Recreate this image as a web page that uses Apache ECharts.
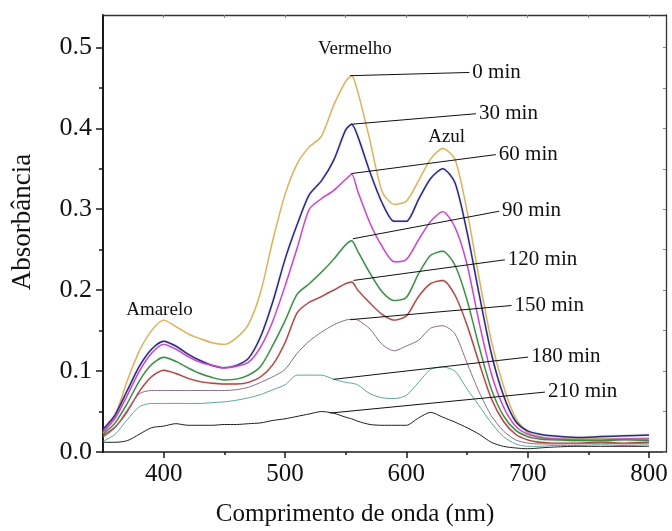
<!DOCTYPE html>
<html>
<head>
<meta charset="utf-8">
<script src="https://cdn.jsdelivr.net/npm/echarts@6/dist/echarts.min.js"></script>
<style>
  html, body { margin: 0; padding: 0; background: #fff; }
  #chart { width: 672px; height: 531px; }
</style>
</head>
<body>
<div id="chart"></div>
<script>
// wavelengths (nm) shared by all spectra
var wavelength = [350,360,370,380,390,400,410,420,430,440,450,460,470,480,490,500,510,520,530,540,550,
  555,
  560,570,580,590,600,610,620,630,640,650,660,670,680,690,700,
  710,720,
  740,760,780,800];

// absorbance, one array per irradiation time
var abs0 = [.023,.045,.088,.125,.150,.163,.155,.146,.140,.135,.133,.141,.158,.198,.262,.318,.356,.377,.390,.428,.458,
  .465,
  .445,.385,.322,.306,.310,.335,.362,.375,.362,.298,.215,.138,.082,.042,.024,
  .019,.017,
  .016,.017,.016,.017];
var abs30 = [.028,.046,.076,.106,.127,.137,.131,.121,.113,.107,.104,.107,.116,.143,.186,.238,.281,.318,.335,.360,.398,
  .405,
  .390,.346,.308,.285,.285,.312,.338,.350,.333,.272,.195,.122,.070,.038,.026,
  .022,.020,
  .018,.019,.020,.021];
var abs60 = [.025,.042,.070,.100,.122,.133,.127,.118,.111,.107,.104,.106,.111,.130,.162,.205,.252,.300,.313,.323,.337,
  .343,
  .322,.283,.254,.235,.238,.262,.285,.297,.278,.232,.160,.097,.056,.032,.022,
  .018,.016,
  .015,.015,.016,.016];
var abs90 = [.022,.036,.060,.088,.108,.117,.112,.104,.097,.092,.089,.090,.095,.106,.132,.162,.195,.208,.222,.238,.256,
  .261,
  .248,.221,.198,.187,.191,.220,.243,.248,.231,.188,.130,.078,.045,.027,.019,
  .016,.015,
  .014,.014,.015,.014];
var abs120 = [.020,.031,.050,.075,.093,.101,.097,.091,.087,.085,.084,.084,.086,.093,.108,.135,.172,.185,.192,.200,.208,
  .210,
  .200,.184,.170,.163,.168,.192,.208,.212,.194,.157,.110,.066,.038,.022,.015,
  .012,.011,
  .011,.012,.011,.012];
var abs150 = [.018,.030,.052,.072,.076,.076,.076,.076,.076,.076,.076,.077,.080,.086,.093,.102,.122,.137,.148,.157,.163,
  .164,
  .163,.152,.133,.125,.131,.138,.153,.156,.146,.110,.074,.045,.026,.015,.011,
  .010,.010,
  .010,.011,.010,.011];
var abs180 = [.013,.022,.040,.056,.060,.060,.060,.060,.060,.061,.062,.064,.067,.071,.077,.083,.095,.095,.095,.090,.086,
  .085,
  .083,.072,.067,.066,.070,.086,.102,.105,.100,.078,.057,.036,.019,.010,.007,
  .007,.008,
  .008,.009,.008,.009];
var abs210 = [.012,.012,.014,.022,.030,.032,.035,.033,.033,.033,.034,.034,.035,.036,.039,.041,.044,.047,.050,.048,.043,
  .041,
  .038,.034,.033,.033,.033,.042,.049,.043,.037,.030,.022,.012,.007,.005,.004,
  .005,.006,
  .007,.007,.007,.007];

var seriesNames = ['0 min','30 min','60 min','90 min','120 min','150 min','180 min','210 min'];
var seriesValues = [abs0, abs30, abs60, abs90, abs120, abs150, abs180, abs210];

// leader lines: from the curve to where the label sits (data coords)
var leaderFrom = [[553.7,.465],[554.5,.405],[554.5,.344],[555.9,.2635],[556.4,.212],[553.7,.1635],[539.9,.0898],[537.2,.0481]];
var leaderTo   = [[651.9,.469],[657.4,.418],[673.8,.3675],[676.5,.2975],[681.2,.2375],[686.7,.181],[700.4,.1173],[714.2,.074]];

// band names
var bandNames = ['Vermelho','Azul','Amarelo'];
var bandPos = [[557.6,.498],[633.2,.389],[396.5,.175]];

var xMajor = [400,500,600,700,800];
var xMinor = [450,550,650,750];
var yMajor = [0,0.1,0.2,0.3,0.4,0.5];
var yMinor = [0.05,0.15,0.25,0.35,0.45];

var colors = ['#d6b35e','#2b2b7e','#c246c6','#3d8a46','#a94747','#8c6c84','#5aa996','#1e1e1e'];
var widths = [1.4,1.5,1.4,1.4,1.4,1,1,1];

var serif = '"Liberation Serif", "Times New Roman", serif';
var axisColor = '#1a1a1a';

var myChart = echarts.init(document.getElementById('chart'));

var series = seriesValues.map(function (vals, k) {
  return {
    name: seriesNames[k],
    type: 'line',
    xAxisIndex: 0,
    yAxisIndex: 0,
    showSymbol: false,
    smooth: 0.25,
    data: wavelength.map(function (w, i) { return [w, vals[i]]; }),
    lineStyle: {
      color: colors[k],
      width: widths[k],
      shadowColor: colors[k] + '40',
      shadowBlur: k < 5 ? 2 : 0
    },
    silent: true,
    markLine: {
      silent: true,
      symbol: ['none', 'none'],
      animation: false,
      lineStyle: { color: '#111', width: 1, type: 'solid' },
      label: {
        show: true,
        position: 'end',
        distance: 3,
        formatter: seriesNames[k],
        fontFamily: serif,
        fontSize: 21,
        color: '#111'
      },
      data: [[{ coord: leaderFrom[k] }, { coord: leaderTo[k] }]]
    }
  };
});

series.push({
  name: 'bands',
  type: 'scatter',
  xAxisIndex: 0,
  yAxisIndex: 0,
  symbolSize: 1,
  silent: true,
  itemStyle: { color: 'rgba(255,255,255,0)' },
  label: {
    show: true,
    position: 'inside',
    formatter: function (p) { return p.data[2]; },
    fontFamily: serif,
    fontSize: 19,
    color: '#111',
    textBorderWidth: 0,
    opacity: 1
  },
  data: bandPos.map(function (p, i) { return [p[0], p[1], bandNames[i]]; })
});

var option = {
  animation: false,
  backgroundColor: '#fff',
  grid: { left: 103, right: 6, top: 15, bottom: 79 },
  xAxis: [{
    type: 'value', min: 350, max: 814, position: 'bottom',
    axisLine: { onZero: false, lineStyle: { color: axisColor, width: 1.6 } },
    axisTick: { customValues: xMajor, length: 6, lineStyle: { color: axisColor, width: 1.5 } },
    axisLabel: { customValues: xMajor, margin: 10, fontFamily: serif, fontSize: 25, color: '#111' },
    splitLine: { show: false }
  }, {
    type: 'value', min: 350, max: 814, position: 'bottom',
    axisLine: { show: false },
    axisTick: { customValues: xMinor, length: 3, lineStyle: { color: axisColor, width: 1.5 } },
    axisLabel: { show: false },
    splitLine: { show: false }
  }, {
    type: 'value', min: 350, max: 814, position: 'top',
    axisLine: { onZero: false, lineStyle: { color: '#333', width: 1.3 } },
    axisTick: { inside: true, customValues: xMajor.concat(xMinor), length: 3, lineStyle: { color: '#888' } },
    axisLabel: { show: false },
    splitLine: { show: false }
  }],
  yAxis: [{
    type: 'value', min: 0, max: 0.54, position: 'left',
    axisLine: { onZero: false, lineStyle: { color: axisColor, width: 2 } },
    axisTick: { customValues: yMajor, length: 7, lineStyle: { color: axisColor, width: 1.5 } },
    axisLabel: {
      customValues: yMajor, margin: 11, fontFamily: serif, fontSize: 26, color: '#111',
      formatter: function (v) { return v.toFixed(1); }
    },
    splitLine: { show: false }
  }, {
    type: 'value', min: 0, max: 0.54, position: 'left',
    axisLine: { show: false },
    axisTick: { customValues: yMinor, length: 4, lineStyle: { color: axisColor, width: 1.5 } },
    axisLabel: { show: false },
    splitLine: { show: false }
  }, {
    type: 'value', min: 0, max: 0.54, position: 'right',
    axisLine: { onZero: false, lineStyle: { color: '#333', width: 1.3 } },
    axisTick: { inside: true, customValues: yMajor.concat(yMinor), length: 3, lineStyle: { color: '#888' } },
    axisLabel: { show: false },
    splitLine: { show: false }
  }],
  graphic: [{
    type: 'text', x: 355, y: 514,
    style: { text: 'Comprimento de onda (nm)', font: '25px ' + serif, textAlign: 'center', textVerticalAlign: 'middle', fill: '#111' }
  }, {
    type: 'text', x: 23, y: 222, rotation: Math.PI / 2,
    style: { text: 'Absorbância', font: '27px ' + serif, textAlign: 'center', textVerticalAlign: 'middle', fill: '#111' }
  }],
  series: series
};

myChart.setOption(option);
</script>
</body>
</html>
